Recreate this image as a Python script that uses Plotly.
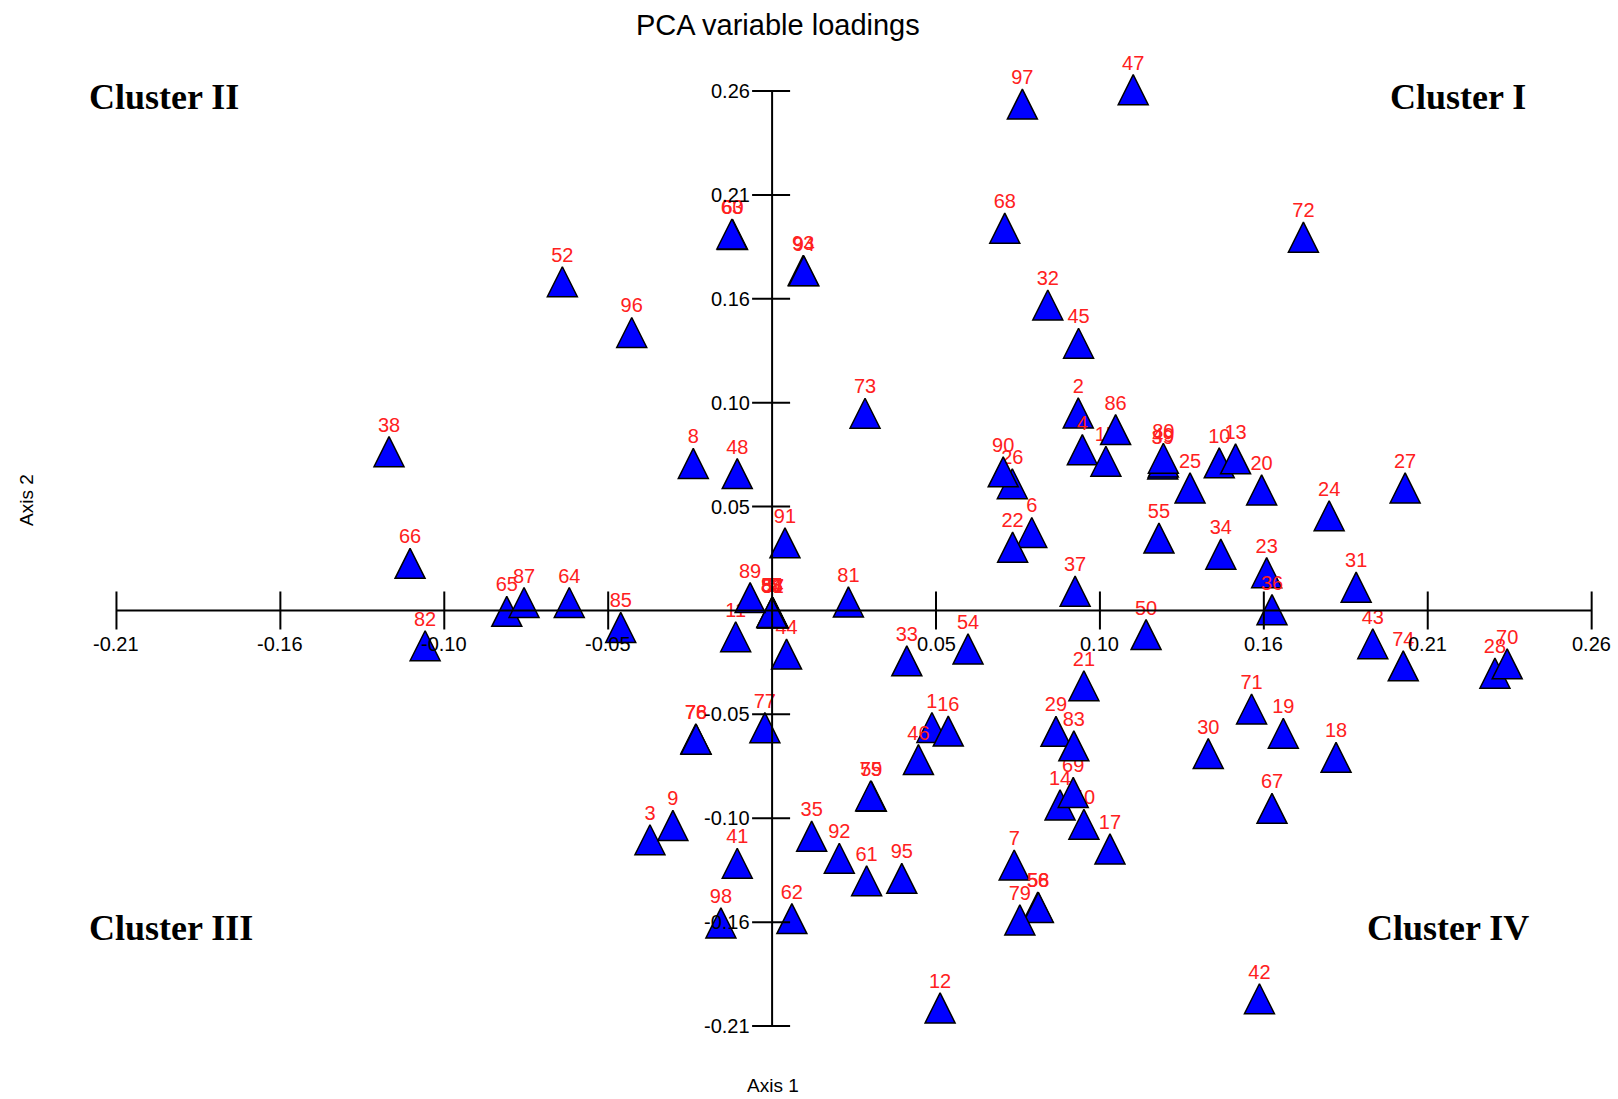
import plotly.graph_objects as go

# ---- data (PCA variable loadings), variable numbers 1..98 ----
labels = [str(i) for i in range(1, 99)]
axis1 = [0.0509, 0.0975, -0.0389, 0.0988, 0.0001, 0.0827, 0.0771, -0.0251, -0.0316, 0.1424,
         -0.0116, 0.0535, 0.1476, 0.0917, 0.1063, 0.0561, 0.1076, 0.1796, 0.1628, 0.1559,
         0.0993, 0.0766, 0.1575, 0.1774, 0.1331, 0.0765, 0.2016, 0.2302, 0.0904, 0.1389,
         0.1860, 0.0878, 0.0429, 0.1429, 0.0126, 0.1592, 0.0965, -0.1220, 0.1244, 0.0993,
         -0.0111, 0.1552, 0.1913, 0.0046, 0.0976, 0.0466, 0.1150, -0.0111, 0.1246, 0.1191,
         0.0002, -0.0668, 0.0000, 0.0624, 0.1232, 0.0846, 0.0003, 0.0848, 0.0316, -0.0126,
         0.0301, 0.0063, -0.0128, -0.0646, -0.0845, -0.1153, 0.1592, 0.0741, 0.0959, 0.2341,
         0.1527, 0.1692, 0.0296, 0.2010, 0.0314, -0.0243, -0.0023, -0.0242, 0.0789, 0.1246,
         0.0243, -0.1105, 0.0961, 0.0001, -0.0482, 0.1094, -0.0790, -0.0001, -0.0070, 0.0736,
         0.0041, 0.0214, 0.0099, 0.0101, 0.0413, -0.0447, 0.0797, -0.0163]
axis2 = [-0.0588, 0.0993, -0.1152, 0.0808, -0.0010, 0.0392, -0.1279, 0.0739, -0.1080, 0.0742,
         -0.0132, -0.1997, 0.0762, -0.0977, 0.0750, -0.0606, -0.1198, -0.0738, -0.0617, 0.0606,
         -0.0378, 0.0318, 0.0190, 0.0476, 0.0616, 0.0637, 0.0616, -0.0315, -0.0607, -0.0719,
         0.0117, 0.1535, -0.0253, 0.0283, -0.1134, 0.0004, 0.0097, 0.0798, 0.0736, -0.1074,
         -0.1270, -0.1951, -0.0167, -0.0219, 0.1343, -0.0749, 0.2617, 0.0688, 0.0746, -0.0121,
         -0.0012, 0.1652, -0.0008, -0.0193, 0.0364, -0.1490, -0.0011, -0.1492, -0.0933, 0.1890,
         -0.1358, -0.1548, 0.1892, 0.0040, -0.0004, 0.0237, -0.0994, 0.1921, -0.0914, -0.0268,
         -0.0495, 0.1876, 0.0991, -0.0278, -0.0931, -0.0645, -0.0589, -0.0647, -0.1555, 0.0765,
         0.0043, -0.0177, -0.0680, -0.0009, -0.0085, 0.0909, 0.0040, -0.0010, 0.0065, 0.0697,
         0.0340, -0.1245, 0.1709, 0.1707, -0.1346, 0.1397, 0.2545, -0.1570]

tick_step = 0.0522
x_tick_idx = [-4, -3, -2, -1, 1, 2, 3, 4, 5]
x_tick_text = ["-0.21", "-0.16", "-0.10", "-0.05", "0.05", "0.10", "0.16", "0.21", "0.26"]
y_tick_idx = [5, 4, 3, 2, 1, -1, -2, -3, -4]
y_tick_text = ["0.26", "0.21", "0.16", "0.10", "0.05", "-0.05", "-0.10", "-0.16", "-0.21"]

W, H = 1618, 1099
X_RANGE = [-0.24589, 0.26939]
Y_RANGE = [-0.24548, 0.30678]
PX_PER_Y = H / (Y_RANGE[1] - Y_RANGE[0])
SYM = 30                                  # triangle size in px
half = (SYM / 2) / PX_PER_Y               # centre the apex-anchored triangle on its value
Y2_RANGE = [Y_RANGE[0] - half, Y_RANGE[1] - half]

fig = go.Figure()

label_font = dict(family="Liberation Sans, Arial, sans-serif", size=20, color="#ff2020")
# one triangle + its label per variable, in numeric order (later ones drawn on top)
for lab, a1, a2 in zip(labels, axis1, axis2):
    fig.add_trace(go.Scatter(
        x=[a1], y=[a2], mode="markers", yaxis="y2",
        marker=dict(symbol="arrow-up", size=SYM, color="#0000ff",
                    line=dict(width=1.5, color="black")),
        name=lab, showlegend=False, cliponaxis=False))
    fig.add_trace(go.Scatter(
        x=[a1], y=[a2], mode="text", yaxis="y2", text=[lab],
        textposition="top center", textfont=label_font,
        hoverinfo="skip", showlegend=False, cliponaxis=False))

xt = [k * tick_step for k in x_tick_idx]
yt = [k * tick_step for k in y_tick_idx]
line_style = dict(color="black", width=2)

shapes = [
    dict(type="line", xref="x", yref="y", x0=min(xt), x1=max(xt), y0=0, y1=0, line=line_style),
    dict(type="line", xref="x", yref="y", x0=0, x1=0, y0=min(yt), y1=max(yt), line=line_style),
]
for v in xt:
    shapes.append(dict(type="line", xref="x", yref="y", x0=v, x1=v,
                       ysizemode="pixel", yanchor=0, y0=-19, y1=19, line=line_style))
for v in yt:
    shapes.append(dict(type="line", xref="x", yref="y", y0=v, y1=v,
                       xsizemode="pixel", xanchor=0, x0=-20, x1=18, line=line_style))

tick_font = dict(family="Liberation Sans, Arial, sans-serif", size=20, color="black")
ann = []
for v, t in zip(xt, x_tick_text):
    ann.append(dict(x=v, y=0, xref="x", yref="y", text=t, showarrow=False,
                    xanchor="center", yanchor="middle", yshift=-34, font=tick_font))
for v, t in zip(yt, y_tick_text):
    ann.append(dict(x=0, y=v, xref="x", yref="y", text=t, showarrow=False,
                    xanchor="right", yanchor="middle", xshift=-20, font=tick_font))

cluster_font = dict(family="Liberation Serif, Times New Roman, serif", size=36, color="black")
def px(xp, yp):
    return xp / W, 1 - yp / H
for txt, (xp, yp), xa in [("<b>Cluster II</b>", (87, 97), "left"),
                          ("<b>Cluster I</b>", (1528, 97), "right"),
                          ("<b>Cluster III</b>", (87, 928), "left"),
                          ("<b>Cluster IV</b>", (1531, 928), "right")]:
    xx, yy = px(xp, yp)
    ann.append(dict(x=xx, y=yy, xref="paper", yref="paper", text=txt, showarrow=False,
                    xanchor=xa, yanchor="middle", font=cluster_font))

xx, yy = px(778, 25)
ann.append(dict(x=xx, y=yy, xref="paper", yref="paper", text="PCA variable loadings",
                showarrow=False, xanchor="center", yanchor="middle",
                font=dict(family="Liberation Sans, Arial, sans-serif", size=29, color="black")))
xx, yy = px(773, 1085)
ann.append(dict(x=xx, y=yy, xref="paper", yref="paper", text="Axis 1",
                showarrow=False, xanchor="center", yanchor="middle",
                font=dict(family="Liberation Sans, Arial, sans-serif", size=19, color="black")))
xx, yy = px(26, 500)
ann.append(dict(x=xx, y=yy, xref="paper", yref="paper", text="Axis 2", textangle=-90,
                showarrow=False, xanchor="center", yanchor="middle",
                font=dict(family="Liberation Sans, Arial, sans-serif", size=19, color="black")))

fig.update_layout(
    width=W, height=H, margin=dict(l=0, r=0, t=0, b=0),
    paper_bgcolor="white", plot_bgcolor="white",
    xaxis=dict(range=X_RANGE, visible=False, fixedrange=True),
    yaxis=dict(range=Y_RANGE, visible=False, fixedrange=True),
    yaxis2=dict(range=Y2_RANGE, visible=False, fixedrange=True, overlaying="y"),
    shapes=shapes, annotations=ann, showlegend=False,
)

fig.write_html("out.html")
